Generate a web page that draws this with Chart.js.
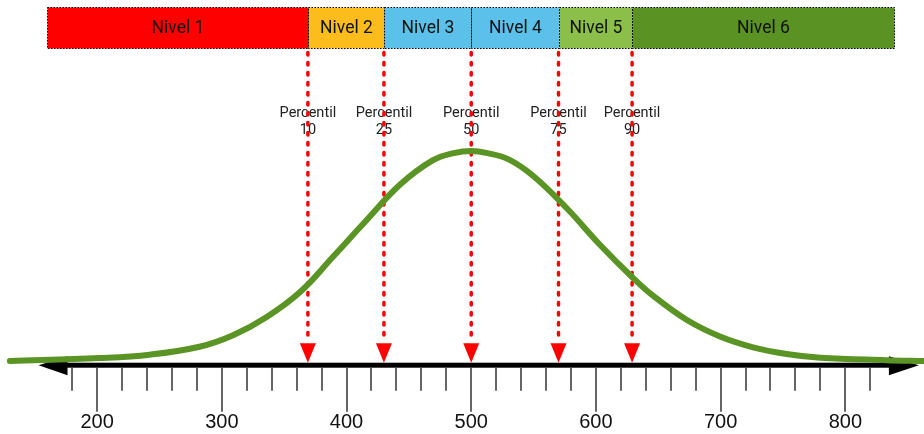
<!DOCTYPE html>
<html>
<head>
<meta charset="utf-8">
<script src="https://cdn.jsdelivr.net/npm/chart.js@4/dist/chart.umd.min.js"></script>
<style>
  html, body { margin: 0; padding: 0; background: #fff; }
  #wrap { width: 924px; height: 434px; position: relative; }
</style>
</head>
<body>
<div id="wrap"><canvas id="curveChart"></canvas></div>
<script>
// Curva (puntaje vs. altura relativa, pico = 100)
const curveX = [130, 202, 242, 282, 309, 336, 363, 389, 416, 443, 469, 486, 500, 513, 530, 550, 577, 603, 629, 646, 673, 700, 726, 753, 780, 833, 863];
const curveY = [0, 1.4, 3, 6.8, 12.3, 21, 33, 49.5, 67, 84, 95.5, 99, 100, 99, 96, 88, 72.5, 55.5, 40, 31, 19.5, 11.5, 6.5, 3.3, 1.5, 0.4, 0];

// Niveles (bordes en puntaje)
const levelLabels = ['Nivel 1', 'Nivel 2', 'Nivel 3', 'Nivel 4', 'Nivel 5', 'Nivel 6'];
const levelEdges = [160, 369, 430, 500, 570, 629, 839];
const levelColors = ['#ff0000', '#fbbc1c', '#5cc1ea', '#5cc1ea', '#8cbf4a', '#5a9324'];

// Percentiles
const percentileLabels = ['10', '25', '50', '75', '90'];
const percentileValues = [369, 430, 500, 570, 629];

// Eje
const minorTicks = [180, 200, 220, 240, 260, 280, 300, 320, 340, 360, 380, 400, 420, 440, 460, 480, 500,
  520, 540, 560, 580, 600, 620, 640, 660, 680, 700, 720, 740, 760, 780, 800, 820];
const majorTicks = [200, 300, 400, 500, 600, 700, 800];
const axisStart = 153;
const axisEnd = 859;

const overlay = {
  id: 'overlay',
  beforeDatasetsDraw(chart) {
    const { ctx, scales: { x, y } } = chart;
    ctx.save();

    // bandas de niveles
    const bandTop = Math.round(y.getPixelForValue(168.4)) + 0.5;
    const bandBot = Math.round(y.getPixelForValue(149.2)) + 0.5;
    levelLabels.forEach((label, i) => {
      const x0 = Math.round(x.getPixelForValue(levelEdges[i])) + 0.5;
      const x1 = Math.round(x.getPixelForValue(levelEdges[i + 1])) + 0.5;
      ctx.fillStyle = levelColors[i];
      ctx.fillRect(x0, bandTop, x1 - x0, bandBot - bandTop);
      ctx.strokeStyle = '#000';
      ctx.lineWidth = 1;
      ctx.setLineDash([1.5, 1.5]);
      ctx.strokeRect(x0, bandTop, x1 - x0, bandBot - bandTop);
      ctx.setLineDash([]);
      ctx.fillStyle = '#111';
      ctx.font = '17.5px Roboto';
      ctx.textAlign = 'center';
      ctx.textBaseline = 'middle';
      ctx.fillText(label, (x0 + x1) / 2, (bandTop + bandBot) / 2 + 1);
    });

    // eje horizontal
    const axisY = y.getPixelForValue(-2);
    const xa = x.getPixelForValue(axisStart);
    const xb = x.getPixelForValue(axisEnd);
    ctx.fillStyle = '#000';
    ctx.fillRect(xa + 20, axisY - 2.5, xb - xa - 40, 5);
    ctx.beginPath();
    ctx.moveTo(xa, axisY);
    ctx.lineTo(xa + 29, axisY - 9);
    ctx.lineTo(xa + 29, axisY + 10);
    ctx.closePath();
    ctx.fill();
    ctx.beginPath();
    ctx.moveTo(xb, axisY);
    ctx.lineTo(xb - 30, axisY - 9);
    ctx.lineTo(xb - 30, axisY + 10);
    ctx.closePath();
    ctx.fill();

    // marcas
    ctx.strokeStyle = '#333';
    ctx.lineWidth = 1.5;
    minorTicks.forEach(v => {
      const px = Math.round(x.getPixelForValue(v));
      const len = majorTicks.includes(v) ? 44 : 23;
      ctx.beginPath();
      ctx.moveTo(px, axisY + 2.5);
      ctx.lineTo(px, axisY + 2.5 + len);
      ctx.stroke();
    });
    ctx.fillStyle = '#111';
    ctx.font = '20px "Liberation Sans", Arial, sans-serif';
    ctx.textAlign = 'center';
    ctx.textBaseline = 'middle';
    majorTicks.forEach(v => {
      ctx.fillText(String(v), x.getPixelForValue(v), axisY + 57);
    });

    // percentiles
    const labelY = y.getPixelForValue(118);
    ctx.font = '14.5px Roboto';
    percentileValues.forEach((v, i) => {
      const px = x.getPixelForValue(v);
      ctx.fillStyle = '#222';
      ctx.fillText('Percentil', px, labelY);
      ctx.fillText(percentileLabels[i], px, labelY + 17);
      ctx.strokeStyle = '#ff0000';
      ctx.lineWidth = 3.5;
      ctx.lineCap = 'round';
      ctx.setLineDash([2.5, 7.5]);
      ctx.beginPath();
      ctx.moveTo(px, bandBot + 4);
      ctx.lineTo(px, axisY - 24);
      ctx.stroke();
      ctx.setLineDash([]);
      ctx.lineCap = 'butt';
      ctx.fillStyle = '#ff0000';
      ctx.beginPath();
      ctx.moveTo(px, axisY - 2.5);
      ctx.lineTo(px - 8, axisY - 22);
      ctx.lineTo(px + 8, axisY - 22);
      ctx.closePath();
      ctx.fill();
    });

    ctx.restore();
  }
};

new Chart(document.getElementById('curveChart'), {
  type: 'line',
  data: {
    datasets: [{
      data: curveX.map((v, i) => ({ x: v, y: curveY[i] })),
      borderColor: '#5a9424',
      borderWidth: 6,
      borderCapStyle: 'round',
      pointRadius: 0,
      tension: 0.4,
      fill: false,
      clip: false
    }]
  },
  options: {
    responsive: true,
    maintainAspectRatio: false,
    animation: false,
    layout: { padding: 0 },
    plugins: { legend: { display: false }, tooltip: { enabled: false } },
    scales: {
      x: { type: 'linear', min: 122.1, max: 863.1, display: false },
      y: { min: -34.76, max: 171.9, display: false }
    }
  },
  plugins: [overlay]
});
</script>
</body>
</html>
